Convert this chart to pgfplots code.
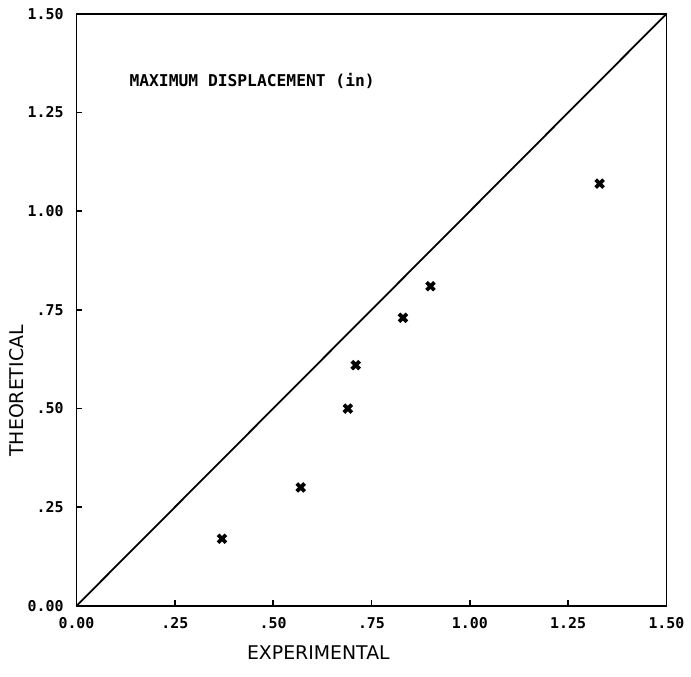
\documentclass[border=0pt]{standalone}
\usepackage{fontspec}
\setmainfont{DejaVu Sans}
\newfontfamily\monofont{DejaVu Sans Mono}
\usepackage{pgfplots}
\pgfplotsset{compat=1.18}
\begin{document}
\begin{tikzpicture}
\begin{axis}[
  name=main,
  scale only axis,
  width=297pt, height=298pt,
  xmin=0, xmax=1.5, ymin=0, ymax=1.5,
  axis line style={line width=0.9pt},
  xtick={0,0.25,0.5,0.75,1,1.25,1.5},
  ytick={0,0.25,0.5,0.75,1,1.25,1.5},
  xticklabels={0.00,.25,.50,.75,1.00,1.25,1.50},
  yticklabels={0.00,.25,.50,.75,1.00,1.25,1.50},
  xtick pos=left, ytick pos=left,
  tick align=inside,
  major tick length=3pt,
  tick style={line width=0.8pt, black},
  tick label style={font=\monofont\bfseries\fontsize{7.5}{8}\selectfont},
  xticklabel style={yshift=-2.5pt},
  yticklabel style={xshift=-3pt},
  xlabel={EXPERIMENTAL},
  ylabel={THEORETICAL},
  xlabel style={at={(axis description cs:0.41,0)}, anchor=north, yshift=-20pt, inner sep=0pt, font=\fontsize{9.5}{10}\selectfont},
  ylabel style={at={(axis description cs:0,0.363)}, anchor=center, yshift=30pt, inner sep=0pt, font=\fontsize{9.5}{10}\selectfont},
  clip=false,
]
\addplot[black, line width=0.9pt] coordinates {(0,0) (1.5,1.5)};
\addplot[only marks, mark=x, mark size=2.8pt, mark options={line width=1.9pt, black}] coordinates {
  (0.37,0.17) (0.57,0.30) (0.69,0.50) (0.71,0.61) (0.83,0.73) (0.90,0.81) (1.33,1.07)
};
\node[anchor=west, inner sep=0pt, font=\monofont\bfseries\fontsize{8.2}{9}\selectfont] at (axis cs:0.134,1.33) {MAXIMUM DISPLACEMENT (in)};
\end{axis}
\path ([xshift=-38.5pt, yshift=-35.5pt]main.south west) ([xshift=9.5pt, yshift=7pt]main.north east);
\end{tikzpicture}
\end{document}
